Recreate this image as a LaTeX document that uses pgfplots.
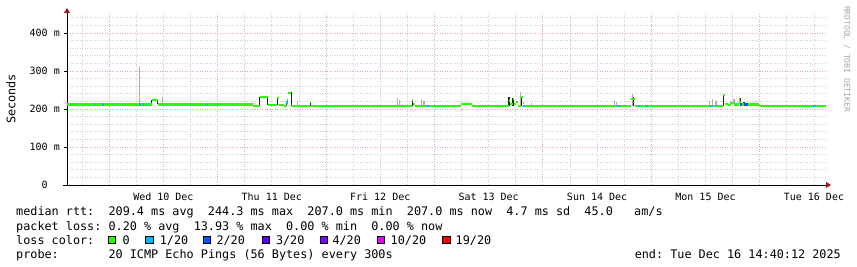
\documentclass[border=0pt]{standalone}
\usepackage{pgfplots}
\pgfplotsset{compat=1.18}
\usepackage{fontspec}
\usetikzlibrary{arrows.meta}
\newfontfamily\mono{DejaVu Sans Mono}
\newcommand\lgf{\mono\fontsize{11.8bp}{14bp}\selectfont}
\newcommand\tkf{\mono\fontsize{10bp}{12bp}\selectfont}
\definecolor{lc0}{HTML}{26FF00}
\definecolor{lc1}{HTML}{00B8FF}
\definecolor{lc2}{HTML}{0059FF}
\definecolor{lc3}{HTML}{5E00FF}
\definecolor{lc4}{HTML}{7E00FF}
\definecolor{lc10}{HTML}{DD00FF}
\definecolor{lc19}{HTML}{FF0000}
\definecolor{arrowred}{HTML}{9B1C1C}
\definecolor{mgrid}{HTML}{E6A8A8}
\definecolor{ggrid}{HTML}{CFCFCF}
\definecolor{smokedark}{HTML}{222222}
\definecolor{smokelight}{HTML}{B0B0B0}
\begin{document}
\begin{tikzpicture}
\useasboundingbox (0,0) rectangle (857bp,267bp);
\begin{axis}[
  at={(67bp,82bp)}, anchor=south west,
  scale only axis, width=759bp, height=172bp,
  xmin=-9.33, xmax=158.67, ymin=0, ymax=452.6,
  axis lines=left,
  axis line style={line width=0.8bp, black, -},
  x axis line style={-{Triangle[length=5bp,width=6bp,color=arrowred]}, shorten >=-5bp, shorten <=-4bp},
  y axis line style={-{Triangle[length=5bp,width=6bp,color=arrowred]}, shorten >=-5bp},
  xtick={12,36,60,84,108,132,156},
  xticklabels={Wed 10 Dec,Thu 11 Dec,Fri 12 Dec,Sat 13 Dec,Sun 14 Dec,Mon 15 Dec,Tue 16 Dec},
  xtick style={draw=none},
  minor xtick={-6,6,12,18,30,36,42,54,60,66,78,84,90,102,108,114,126,132,138,150,156},
  extra x ticks={0,24,48,72,96,120,144},
  extra x tick labels={,,,,,,},
  extra x tick style={grid=major},
  xminorgrids,
  ytick={0,100,200,300,400},
  yticklabels={0\phantom{~m},100~m,200~m,300~m,400~m},
  minor ytick={20,40,60,80,120,140,160,180,220,240,260,280,320,340,360,380,420,440},
  ymajorgrids, yminorgrids,
  major grid style={mgrid, line width=0.8bp, dash pattern=on 1bp off 1.5bp},
  minor grid style={ggrid, line width=0.8bp, dash pattern=on 1bp off 1.5bp},
  minor tick length=0pt, major tick length=3bp, tick align=outside,
  ytick style={black, line width=0.8bp},
  ticklabel style={font=\tkf, inner sep=0pt},
  xticklabel style={anchor=base, yshift=-13bp},
  yticklabel style={anchor=east, xshift=-4bp},
  unbounded coords=jump,
]
% light smoke
\addplot[smokelight, line width=1.2bp] coordinates {
(6.64,212)(6.64,311)(6.64,nan)
(11.82,212)(11.82,231)(11.82,nan)
(31.6,210)(31.6,215)(31.6,nan)
(41.7,208)(41.7,222)(41.7,nan)
(63.8,208)(63.8,228)(63.8,nan)
(64.2,208)(64.2,224)(64.2,nan)
(69.2,208)(69.2,225)(69.2,nan)
(69.7,208)(69.7,222)(69.7,nan)
(91.0,208)(91.0,244)(91.0,nan)
(93.5,208)(93.5,215)(93.5,nan)
(111.8,208)(111.8,222)(111.8,nan)
(112.3,208)(112.3,219)(112.3,nan)
(115.8,208)(115.8,240)(115.8,nan)
(132.9,208)(132.9,222)(132.9,nan)
(133.6,208)(133.6,227)(133.6,nan)
(134.3,208)(134.3,220)(134.3,nan)
(137.5,212)(137.5,222)(137.5,nan)
(138.3,212)(138.3,225)(138.3,nan)
(139.5,212)(139.5,229)
};
% dark smoke
\addplot[smokedark, line width=1.2bp] coordinates {
(9.45,212)(9.45,223)(9.45,nan)
(10.78,212)(10.78,223)(10.78,nan)
(33.35,207)(33.35,232)(33.35,nan)
(35.05,211)(35.05,232)(35.05,nan)
(37.3,211)(37.3,231)(37.3,nan)
(39.26,208)(39.26,222)(39.26,nan)
(40.3,208)(40.3,244)(40.3,nan)
(44.5,208)(44.5,219)(44.5,nan)
(67.1,208)(67.1,224)(67.1,nan)
(88.5,208)(88.5,232)(88.5,nan)
(89.4,208)(89.4,228)(89.4,nan)
(91.3,208)(91.3,232)(91.3,nan)
(116.0,208)(116.0,232)(116.0,nan)
(135.9,208)(135.9,237)(135.9,nan)
(139.7,212)(139.7,229)(139.7,nan)
(140.5,212)(140.5,218)
};
% median rtt, loss 0
\addplot[jump mark left, lc0, line width=2.3bp] coordinates {
(-9.33,212) (9.45,223) (10.78,212) (31.95,207) (33.35,232) (35.05,211) (37.2,229) (37.5,211) (38.66,208) (39.26,222) (39.54,243) (40.3,208) (44.4,218) (44.7,208) (67.0,223) (67.35,214) (67.7,208) (77.98,213) (80.42,208) (88.4,222) (88.8,214) (89.3,227) (89.7,213) (90.1,218) (90.5,208) (91.2,232) (91.6,216) (91.9,208) (115.6,226) (116.3,208) (135.8,236) (136.3,214) (137.0,211) (137.6,215) (138.3,212) (139.4,219) (139.9,212) (143.8,208) (158.67,208)
};
% median rtt, loss 1/20
\addplot[lc1, line width=2.3bp] coordinates {
(-3.4,212)(-3.1,212)(-3.1,nan)
(-1.55,212)(-1.25,212)(-1.25,nan)
(6.7,212)(6.95,212)(6.95,nan)
(7.45,212)(7.7,212)(7.7,nan)
(8.2,212)(8.45,212)(8.45,nan)
(21.7,212)(21.95,212)(21.95,nan)
(39.3,212)(39.3,221)(39.3,nan)
(70.1,208)(70.7,208)(70.7,nan)
(91.7,208)(92.0,208)(92.0,nan)
(112.3,208)(113.0,208)(113.0,nan)
(117.0,208)(117.5,208)(117.5,nan)
(118.9,208)(119.3,208)(119.3,nan)
(132.9,208)(133.7,208)(133.7,nan)
(134.5,208)(134.8,208)(134.8,nan)
(155.9,208)(156.4,208)
};
% median rtt, loss 2/20
\addplot[lc2, line width=2.3bp] coordinates {
(139.6,212)(140.1,212)(140.1,nan)
(140.5,212)(141.3,212)
};
\end{axis}
% y label and watermark
\node[rotate=90, inner sep=0pt] at (11bp,168bp) {\lgf Seconds};
\node[rotate=-90, inner sep=0pt, text=black!35] at (847bp,208bp) {\mono\fontsize{8bp}{9bp}\selectfont RRDTOOL / TOBI OETIKER};
% legend text
\node[anchor=base west, inner sep=0pt] at (16bp,51bp) {\lgf median~rtt:~~209.4~ms~avg~~244.3~ms~max~~207.0~ms~min~~207.0~ms~now~~4.7~ms~sd~~45.0~~~am/s};
\node[anchor=base west, inner sep=0pt] at (16bp,37bp) {\lgf packet~loss:~0.20~\%~avg~~13.93~\%~max~~0.00~\%~min~~0.00~\%~now};
\node[anchor=base west, inner sep=0pt] at (16bp,23bp) {\lgf loss~color:};
\foreach \bx/\col in {108.3/lc0,145.7/lc1,203.3/lc2,262.5/lc3,320/lc4,377.3/lc10,442.7/lc19}{
  \filldraw[fill=\col, draw=black, line width=0.7bp] (\bx bp,23.6bp) rectangle ++(7.2bp,7.2bp);
}
\node[anchor=base west, inner sep=0pt] at (122.3bp,23bp) {\lgf 0};
\node[anchor=base west, inner sep=0pt] at (159.6bp,23bp) {\lgf 1/20};
\node[anchor=base west, inner sep=0pt] at (216.3bp,23bp) {\lgf 2/20};
\node[anchor=base west, inner sep=0pt] at (275.8bp,23bp) {\lgf 3/20};
\node[anchor=base west, inner sep=0pt] at (332.3bp,23bp) {\lgf 4/20};
\node[anchor=base west, inner sep=0pt] at (390.5bp,23bp) {\lgf 10/20};
\node[anchor=base west, inner sep=0pt] at (455.5bp,23bp) {\lgf 19/20};
\node[anchor=base west, inner sep=0pt] at (16bp,9bp) {\lgf probe:~~~~~~~20~ICMP~Echo~Pings~(56~Bytes)~every~300s};
\node[anchor=base east, inner sep=0pt] at (841bp,9bp) {\lgf end:~Tue~Dec~16~14:40:12~2025};
\end{tikzpicture}
\end{document}
